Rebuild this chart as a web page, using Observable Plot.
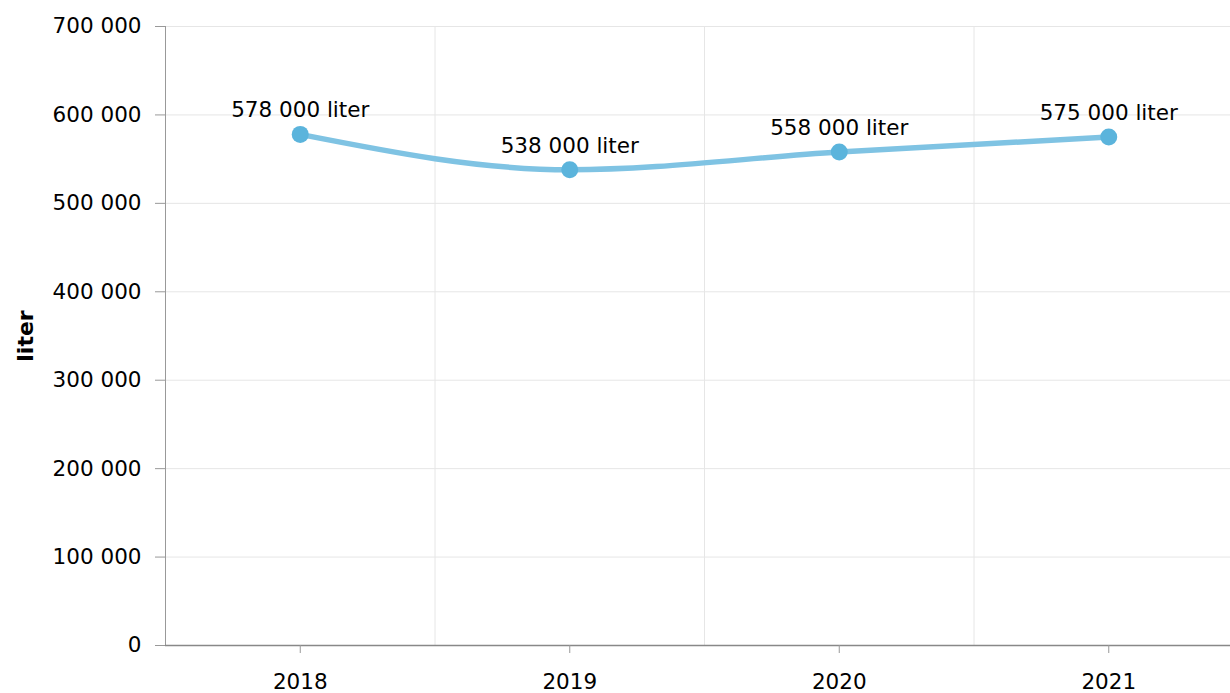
<!DOCTYPE html>
<html>
<head>
<meta charset="utf-8">
<script src="https://cdn.jsdelivr.net/npm/d3@7"></script>
<script src="https://cdn.jsdelivr.net/npm/@observablehq/plot@0.6"></script>
<style>
  html, body { margin: 0; padding: 0; background: #fff; overflow: hidden; }
  #chart { width: 1230px; height: 693px; overflow: hidden; }
  #chart svg { max-width: none !important; font-family: Verdana, "DejaVu Sans", sans-serif; }
</style>
</head>
<body>
<div id="chart"></div>
<script>
const years = [2018, 2019, 2020, 2021];
const values = [578000, 538000, 558000, 575000];
const labels = ["578 000 liter", "538 000 liter", "558 000 liter", "575 000 liter"];
const yTicks = [0, 100000, 200000, 300000, 400000, 500000, 600000, 700000];
const bandEdges = [2018.5, 2019.5, 2020.5];
const yTitle = "liter";

const data = years.map((y, i) => ({year: y, value: values[i], label: labels[i]}));
const fmt = d => d3.format(",")(d).replace(/,/g, " ");
const FS = 21.5;

const chart = Plot.plot({
  width: 1245,
  height: 693,
  marginLeft: 165,
  marginRight: 2,
  marginTop: 26,
  marginBottom: 48,
  style: {fontFamily: 'Verdana, "DejaVu Sans", sans-serif', fontSize: FS + "px", background: "#fff", color: "#000"},
  x: {domain: [2017.5, 2021.5], ticks: years, tickFormat: d => String(d)},
  y: {domain: [0, 700000], ticks: yTicks},
  marks: [
    Plot.gridY(yTicks, {stroke: "#e6e6e6", strokeOpacity: 1}),
    Plot.gridX(bandEdges, {stroke: "#e6e6e6", strokeOpacity: 1}),
    Plot.ruleX([2017.5], {stroke: "#999"}),
    Plot.ruleY([0], {stroke: "#888", strokeWidth: 1.5}),
    Plot.axisY(yTicks, {tickSize: 10, tickPadding: 14, tickFormat: fmt, label: null, stroke: "#999", fontSize: FS}),
    Plot.axisX(years, {tickSize: 8, tickPadding: 20, tickFormat: d => String(d), label: null, stroke: "#999", fontSize: FS}),
    Plot.line(data, {x: "year", y: "value", stroke: "#7fc3e3", strokeWidth: 5.5, curve: "monotone-x"}),
    Plot.dot(data, {x: "year", y: "value", r: 8.5, fill: "#5bb4dc", stroke: "none"}),
    Plot.text(data, {x: "year", y: "value", text: "label", dy: -24, fontSize: FS, fill: "#000"}),
    Plot.text([yTitle], {frameAnchor: "left", textAnchor: "middle", dx: -140, rotate: -90, fontWeight: "bold", fontSize: 22, fill: "#000"})
  ]
});
document.getElementById("chart").appendChild(chart);
</script>
</body>
</html>
